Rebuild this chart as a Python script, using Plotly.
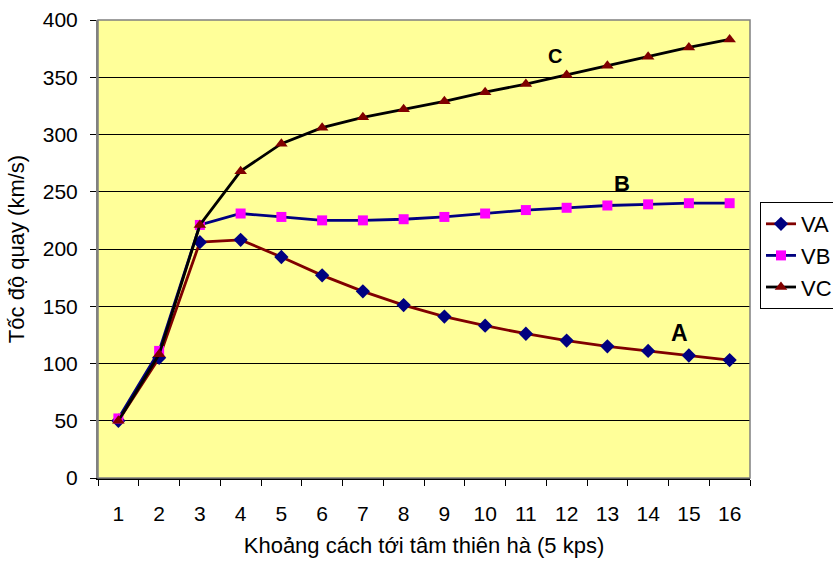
import plotly.graph_objects as go

categories = list(range(1, 17))
va = [50, 105, 206, 208, 193, 177, 163, 151, 141, 133, 126, 120, 115, 111, 107, 103]
vb = [52, 111, 221, 231, 228, 225, 225, 226, 228, 231, 234, 236, 238, 239, 240, 240]
vc = [50, 108, 221, 268, 292, 306, 315, 322, 329, 337, 344, 352, 360, 368, 376, 383]
y_ticks = list(range(0, 401, 50))
labels = [("<b>C</b>", 11.72, 369, 20), ("<b>B</b>", 13.37, 257, 22), ("<b>A</b>", 14.76, 127, 23)]

FONT = "Liberation Sans, Arial, sans-serif"

fig = go.Figure()
fig.add_trace(go.Scatter(x=categories, y=va, name="VA", mode="lines+markers",
                         line=dict(color="#800000", width=2.8),
                         marker=dict(symbol="diamond", size=11, color="#000080")))
fig.add_trace(go.Scatter(x=categories, y=vb, name="VB", mode="lines+markers",
                         line=dict(color="#000080", width=2.8),
                         marker=dict(symbol="square", size=10, color="#FF00FF")))
fig.add_trace(go.Scatter(x=categories, y=vc, name="VC", mode="lines+markers",
                         line=dict(color="#000000", width=2.8),
                         marker=dict(symbol="triangle-up", size=11, color="#800000")))

for t, x, y, s in labels:
    fig.add_annotation(x=x, y=y, text=t, showarrow=False,
                       font=dict(family=FONT, size=s, color="#000000"))

fig.add_shape(type="rect", xref="paper", yref="paper", x0=0, x1=1, y0=0, y1=1,
              line=dict(color="#808080", width=1.5), layer="above")

fig.update_layout(
    width=833, height=563,
    margin=dict(l=98, r=83, t=20, b=85, autoexpand=False),
    paper_bgcolor="white", plot_bgcolor="#FFFF99",
    font=dict(family=FONT, size=21, color="#000000"),
    showlegend=True,
    legend=dict(x=1.0153, y=0.6026, xanchor="left", yanchor="top",
                bordercolor="#000000", borderwidth=1, bgcolor="white",
                font=dict(size=22), itemwidth=30, tracegroupgap=0),
    xaxis=dict(range=[0.5, 16.5], tickvals=categories, ticks="", showgrid=False,
               zeroline=False, showline=True, linecolor="#000000", linewidth=1.5,
               ticklabelstandoff=16,
               minor=dict(tickvals=[i + 0.5 for i in range(0, 17)], ticks="outside",
                          ticklen=6, tickcolor="#000000", tickwidth=1.2),
               title=dict(text="Khoảng cách tới tâm thiên hà (5 kps)", standoff=14,
                          font=dict(size=22))),
    yaxis=dict(range=[0, 400], tickvals=y_ticks, ticks="outside", ticklen=6,
               tickcolor="#000000", showgrid=True, gridcolor="#000000", gridwidth=1,
               zeroline=False, showline=True, linecolor="#808080", linewidth=2,
               ticklabelstandoff=8,
               title=dict(text="Tốc độ quay (km/s)", standoff=12, font=dict(size=22))),
)

fig.write_html("out.html")
